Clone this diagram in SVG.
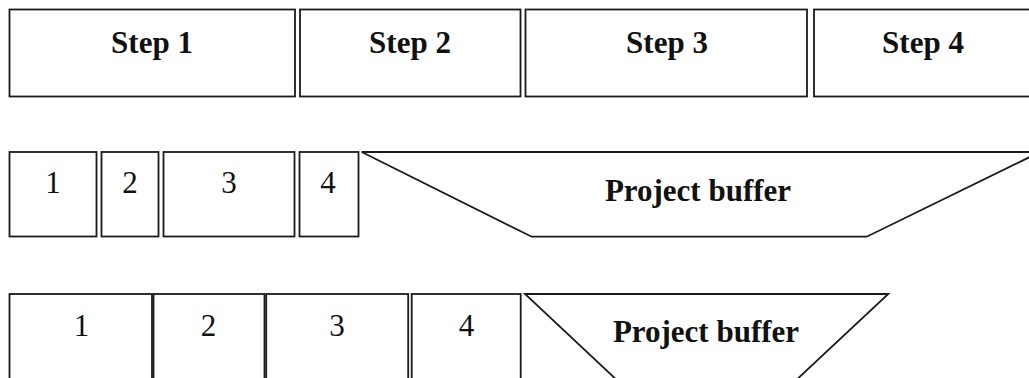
<svg xmlns="http://www.w3.org/2000/svg" width="1029" height="378" viewBox="0 0 1029 378">
<style>
.box{fill:#fff;stroke:#1a1a1a;stroke-width:1.8}
.lbl{font-family:"Liberation Serif","Times New Roman",serif;font-size:31px;font-weight:bold;fill:#111;text-anchor:middle}
.num{font-family:"Liberation Serif","Times New Roman",serif;font-size:31px;fill:#111;text-anchor:middle}
</style>
<rect width="1029" height="378" fill="#fff"/>
<g id="step1"><rect class="box" x="9.5" y="9.5" width="285.5" height="87"/><text class="lbl" x="152" y="53">Step 1</text></g>
<g id="step2"><rect class="box" x="300" y="9.5" width="220.5" height="87"/><text class="lbl" x="410" y="53">Step 2</text></g>
<g id="step3"><rect class="box" x="525.5" y="9.5" width="281.5" height="87"/><text class="lbl" x="667" y="53">Step 3</text></g>
<g id="step4"><rect class="box" x="814" y="9.5" width="222" height="87"/><text class="lbl" x="923" y="53">Step 4</text></g>

<g id="r2-1"><rect class="box" x="9.5" y="152" width="87" height="84.5"/><text class="num" x="53" y="193">1</text></g>
<g id="r2-2"><rect class="box" x="101.5" y="152" width="57" height="84.5"/><text class="num" x="130" y="193">2</text></g>
<g id="r2-3"><rect class="box" x="163.5" y="152" width="131" height="84.5"/><text class="num" x="229" y="193">3</text></g>
<g id="r2-4"><rect class="box" x="299.5" y="152" width="59" height="84.5"/><text class="num" x="328" y="193">4</text></g>
<g id="r2-buffer"><polygon class="box" points="361.7,152 1040,152 866.7,236.7 531.7,236.7"/><text class="lbl" x="698" y="201">Project buffer</text></g>

<g id="r3-1"><rect class="box" x="9.5" y="294" width="142.5" height="110"/><text class="num" x="81.5" y="336">1</text></g>
<g id="r3-2"><rect class="box" x="153.5" y="294" width="111" height="110"/><text class="num" x="208.5" y="336">2</text></g>
<g id="r3-3"><rect class="box" x="266.2" y="294" width="142" height="110"/><text class="num" x="337" y="336">3</text></g>
<g id="r3-4"><rect class="box" x="411.7" y="294" width="109" height="110"/><text class="num" x="466.5" y="336">4</text></g>
<g id="r3-buffer"><polygon class="box" points="525,294 888.3,294 777,398 636,398"/><text class="lbl" x="706" y="342">Project buffer</text></g>
<g id="connectors"/>
</svg>
